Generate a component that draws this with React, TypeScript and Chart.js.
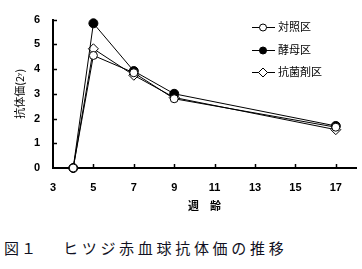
import React, { useEffect, useRef } from "react";
import { Chart, registerables } from "chart.js";

Chart.register(...registerables);

const weeks = [4, 5, 7, 9, 17];
const controlValues = [0, 4.55, 3.85, 2.8, 1.65];
const yeastValues = [0, 5.85, 3.92, 3.0, 1.7];
const antibioticValues = [0, 4.82, 3.75, 2.85, 1.55];
const seriesNames = ["対照区", "酵母区", "抗菌剤区"];
const xTickValues = [3, 5, 7, 9, 11, 13, 15, 17];
const yTickValues = [0, 1, 2, 3, 4, 5, 6];

const toPoints = (vals: number[]) => weeks.map((w, i) => ({ x: w, y: vals[i] }));

function drawMarker(ctx: CanvasRenderingContext2D, kind: number, x: number, y: number) {
  ctx.save();
  ctx.lineWidth = 1;
  ctx.strokeStyle = "#000";
  ctx.beginPath();
  if (kind === 2) {
    const r = 4.5;
    ctx.moveTo(x, y - r);
    ctx.lineTo(x + r, y);
    ctx.lineTo(x, y + r);
    ctx.lineTo(x - r, y);
    ctx.closePath();
    ctx.fillStyle = "#fff";
  } else {
    ctx.arc(x, y, 3.5, 0, Math.PI * 2);
    ctx.fillStyle = kind === 1 ? "#000" : "#fff";
  }
  ctx.fill();
  ctx.stroke();
  ctx.restore();
}

const extrasPlugin = {
  id: "extras",
  afterDraw(chart: any) {
    const ctx = chart.ctx as CanvasRenderingContext2D;
    const xs = chart.scales.x;
    const ys = chart.scales.y;
    ctx.save();
    ctx.strokeStyle = "#000";
    ctx.lineWidth = 1.5;
    xTickValues.slice(1).forEach((v) => {
      const px = Math.round(xs.getPixelForValue(v)) + 0.5;
      ctx.beginPath();
      ctx.moveTo(px, ys.bottom);
      ctx.lineTo(px, ys.bottom - 4);
      ctx.stroke();
    });
    yTickValues.slice(1).forEach((v) => {
      const py = Math.round(ys.getPixelForValue(v)) + 0.5;
      ctx.beginPath();
      ctx.moveTo(xs.left, py);
      ctx.lineTo(xs.left + 4, py);
      ctx.stroke();
    });
    const rows = [27, 50, 72];
    ctx.font = "11px 'Noto Sans CJK JP'";
    ctx.fillStyle = "#000";
    ctx.textBaseline = "middle";
    seriesNames.forEach((name, i) => {
      const y = rows[i] + 0.5;
      ctx.lineWidth = 1;
      ctx.beginPath();
      ctx.moveTo(252, y);
      ctx.lineTo(275, y);
      ctx.stroke();
      drawMarker(ctx, i, 263, y);
      ctx.fillText(name, 278, rows[i]);
    });
    ctx.restore();
  },
};

export default function App() {
  const ref = useRef<HTMLCanvasElement>(null);
  useEffect(() => {
    const tickFont = { family: "'Liberation Sans', Arial, sans-serif", size: 11, weight: "bold" as const };
    const chart = new Chart(ref.current as HTMLCanvasElement, {
      type: "line",
      data: {
        datasets: [
          {
            label: seriesNames[0],
            data: toPoints(controlValues),
            borderColor: "#000",
            borderWidth: 1,
            backgroundColor: "#fff",
            pointStyle: "circle",
            pointRadius: 4,
            pointBorderWidth: 1,
            pointBorderColor: "#000",
            pointBackgroundColor: "#fff",
            clip: false,
          },
          {
            label: seriesNames[1],
            data: toPoints(yeastValues),
            borderColor: "#000",
            borderWidth: 1,
            backgroundColor: "#000",
            pointStyle: "circle",
            pointRadius: 4.5,
            pointBorderWidth: 1,
            pointBorderColor: "#000",
            pointBackgroundColor: "#000",
            clip: false,
          },
          {
            label: seriesNames[2],
            data: toPoints(antibioticValues),
            borderColor: "#000",
            borderWidth: 1,
            backgroundColor: "#fff",
            pointStyle: "rectRot",
            pointRadius: 5,
            pointBorderWidth: 1,
            pointBorderColor: "#000",
            pointBackgroundColor: "#fff",
            clip: false,
          },
        ],
      },
      options: {
        animation: false,
        responsive: false,
        devicePixelRatio: 1,
        layout: { padding: { top: 16, right: 4, left: 0, bottom: 0 } },
        plugins: { legend: { display: false }, tooltip: { enabled: false } },
        scales: {
          x: {
            type: "linear",
            min: 3,
            max: 18,
            afterBuildTicks: (axis: any) => {
              axis.ticks = xTickValues.map((v) => ({ value: v }));
            },
            afterFit: (axis: any) => {
              axis.height = 47;
            },
            grid: { drawOnChartArea: false, drawTicks: false },
            border: { display: true, width: 2, color: "#000" },
            ticks: { color: "#000", font: tickFont, padding: 13, maxRotation: 0, autoSkip: false },
            title: {
              display: true,
              text: "週　齢",
              color: "#000",
              font: { family: "'Noto Sans CJK JP'", size: 11, weight: "bold" },
              padding: { top: 0, bottom: 3 },
            },
          },
          y: {
            type: "linear",
            min: 0,
            max: 6,
            afterBuildTicks: (axis: any) => {
              axis.ticks = yTickValues.map((v) => ({ value: v }));
            },
            afterFit: (axis: any) => {
              axis.width = 53;
            },
            grid: { drawOnChartArea: false, drawTicks: false },
            border: { display: true, width: 2, color: "#000" },
            ticks: { color: "#000", font: tickFont, padding: 13 },
            title: {
              display: true,
              text: "抗体価(2ʸ)",
              color: "#000",
              font: { family: "'Noto Sans CJK JP'", size: 11 },
              padding: { top: 13, bottom: 0 },
            },
          },
        },
      },
      plugins: [extrasPlugin],
    });
    return () => chart.destroy();
  }, []);

  return (
    <div style={{ position: "absolute", left: 0, top: 0, width: 362, height: 269, background: "#fff" }}>
      <canvas ref={ref} width={362} height={215} style={{ display: "block", width: 362, height: 215 }} />
      <div
        style={{
          position: "absolute",
          left: 4,
          top: 238,
          fontFamily: "'Noto Sans CJK JP', sans-serif",
          fontWeight: 400,
          fontSize: 15,
          lineHeight: "20px",
          color: "#111122",
          whiteSpace: "pre",
        }}
      >
        <span style={{ letterSpacing: 2 }}>図１</span>
        <span style={{ display: "inline-block", width: 25 }} />
        <span style={{ letterSpacing: 3.7 }}>ヒツジ赤血球抗体価の推移</span>
      </div>
    </div>
  );
}
